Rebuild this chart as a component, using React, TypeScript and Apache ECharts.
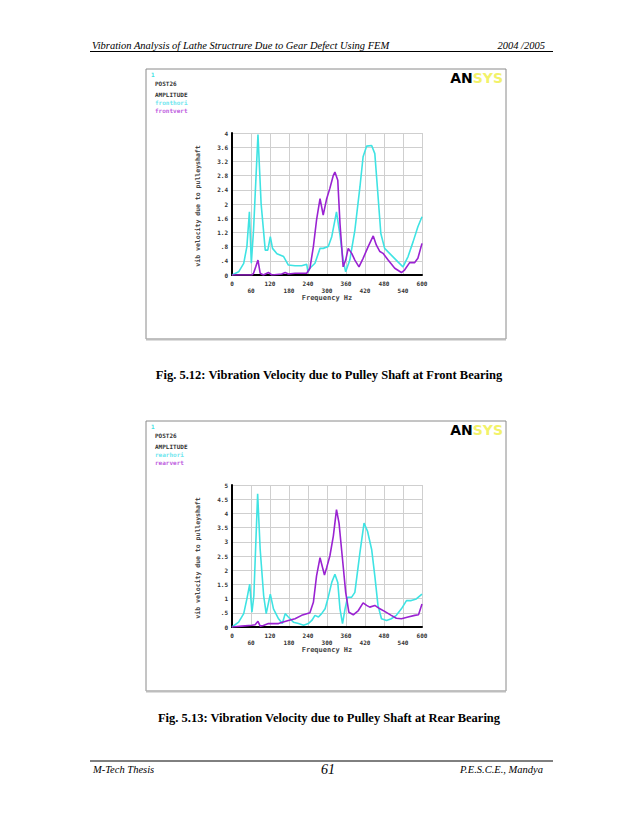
import React, { useEffect, useRef } from "react";
import * as echarts from "echarts";

// Fig 5.12 – front bearing
const frontHoriFreq = [0, 21, 37, 47, 55, 61, 68, 82, 92, 105, 113, 121, 128, 142, 163, 178, 199, 220, 236, 240, 246, 262, 278, 288, 304, 315, 330, 341, 351, 359, 372, 388, 404, 414, 425, 441, 451, 459, 470, 482, 503, 524, 540, 556, 572, 587, 600];
const frontHoriAmp = [0, 0.09, 0.33, 0.8, 1.78, 0.33, 1.26, 3.96, 2.0, 0.7, 0.7, 1.08, 0.75, 0.6, 0.52, 0.28, 0.26, 0.26, 0.3, 0.08, 0.19, 0.33, 0.75, 0.75, 0.8, 1.08, 1.78, 1.12, 0.42, 0.09, 0.42, 1.26, 2.48, 3.33, 3.63, 3.65, 3.42, 2.48, 1.17, 0.75, 0.56, 0.37, 0.23, 0.52, 0.94, 1.36, 1.64];
const frontVertFreq = [0, 63, 68, 75, 82, 89, 99, 115, 126, 157, 168, 178, 199, 236, 246, 257, 267, 278, 288, 299, 309, 320, 325, 334, 341, 351, 359, 367, 378, 388, 401, 414, 430, 446, 456, 467, 477, 493, 514, 535, 545, 561, 577, 587, 600];
const frontVertAmp = [0, 0, 0.05, 0.23, 0.42, 0.05, 0, 0.07, 0, 0.03, 0.07, 0.03, 0.05, 0.05, 0.19, 0.8, 1.55, 2.15, 1.69, 2.15, 2.44, 2.81, 2.9, 2.67, 1.45, 0.23, 0.42, 0.75, 0.61, 0.42, 0.23, 0.47, 0.8, 1.1, 0.84, 0.66, 0.61, 0.42, 0.19, 0.07, 0.14, 0.35, 0.35, 0.47, 0.89];

// Fig 5.13 – rear bearing
const rearHoriFreq = [0, 21, 37, 47, 56, 63, 69, 81, 89, 100, 108, 121, 131, 147, 159, 168, 178, 194, 210, 226, 241, 252, 262, 273, 283, 294, 304, 315, 325, 334, 341, 349, 357, 365, 378, 388, 404, 417, 428, 441, 451, 461, 472, 488, 503, 519, 535, 551, 566, 582, 600];
const rearHoriAmp = [0, 0.17, 0.47, 0.99, 1.51, 0.52, 1.1, 4.69, 2.73, 1.1, 0.47, 1.16, 0.64, 0.29, 0.12, 0.47, 0.35, 0.17, 0.12, 0.06, 0.12, 0.23, 0.41, 0.35, 0.47, 0.64, 1.05, 1.57, 1.86, 1.57, 0.64, 0.12, 0.64, 1.05, 1.05, 1.22, 2.62, 3.66, 3.37, 2.73, 1.8, 0.76, 0.29, 0.23, 0.29, 0.41, 0.64, 0.93, 0.93, 0.99, 1.16];
const rearVertFreq = [0, 31, 63, 73, 82, 89, 99, 115, 147, 159, 178, 199, 220, 236, 246, 257, 267, 278, 292, 299, 309, 320, 330, 338, 348, 359, 369, 383, 399, 414, 425, 435, 451, 467, 482, 503, 519, 535, 556, 577, 589, 600];
const rearVertAmp = [0, 0.03, 0.06, 0.08, 0.2, 0.03, 0.05, 0.12, 0.12, 0.17, 0.23, 0.29, 0.41, 0.47, 0.5, 0.87, 1.8, 2.44, 1.83, 2.09, 2.5, 3.2, 4.13, 3.66, 2.5, 1.22, 0.52, 0.43, 0.58, 0.85, 0.76, 0.7, 0.76, 0.64, 0.55, 0.41, 0.31, 0.29, 0.35, 0.41, 0.43, 0.81];

const yMax = [4, 5];
const yStep = [0.4, 0.5];
const xTicks = { min: 0, max: 600, step: 60 };
const legendNames = [["fronthori", "frontvert"], ["rearhori", "rearvert"]];
const captions = [
  "Fig. 5.12: Vibration Velocity due to Pulley Shaft at Front Bearing",
  "Fig. 5.13: Vibration Velocity due to Pulley Shaft at Rear Bearing",
];

const zip = (a: number[], b: number[]) => a.map((v, i) => [v, b[i]]);

const CYAN = "#3fe3e3";
const PURPLE = "#9a22d2";
const MONO = "DejaVu Sans Mono";
const SERIF = "Liberation Serif";

export default function App() {
  const ref = useRef<HTMLDivElement>(null);
  useEffect(() => {
    if (!ref.current) return;
    const chart = echarts.init(ref.current, null, { renderer: "svg" });
    const offsets = [0, 352];
    const grids = offsets.map((o) => ({ left: 232, top: 133 + o, width: 190, height: 142 }));
    const xAxes = [0, 1].map((i) => ({
      type: "value",
      gridIndex: i,
      min: xTicks.min,
      max: xTicks.max,
      interval: xTicks.step,
      axisLine: { show: true, lineStyle: { color: "#000", width: 2 } },
      axisTick: { show: false },
      splitLine: { show: true, lineStyle: { color: "#cfcfcf", width: 1 } },
      axisLabel: {
        interval: 0,
        fontFamily: MONO,
        fontSize: 6,
        fontWeight: "bold",
        color: "#333",
        lineHeight: 7,
        margin: 5,
        formatter: (v: number) => (Math.round(v / 60) % 2 === 1 ? "\n" + v : "" + v),
      },
    }));
    const yAxes = [0, 1].map((i) => ({
      type: "value",
      gridIndex: i,
      min: 0,
      max: yMax[i],
      interval: yStep[i],
      axisLine: { show: true, lineStyle: { color: "#000", width: 2 } },
      axisTick: { show: false },
      splitLine: { show: true, lineStyle: { color: "#cfcfcf", width: 1 } },
      axisLabel: {
        fontFamily: MONO,
        fontSize: 6,
        fontWeight: "bold",
        color: "#333",
        margin: 4,
        formatter: (v: number) => {
          const s = parseFloat(v.toFixed(2)).toString();
          return s.replace(/^0\./, ".");
        },
      },
    }));
    const mk = (name: string, data: number[][], color: string, idx: number) => ({
      type: "line",
      name,
      xAxisIndex: idx,
      yAxisIndex: idx,
      data,
      showSymbol: false,
      symbol: "none",
      lineStyle: { color, width: 1.6 },
      z: color === PURPLE ? 3 : 2,
    });
    const series = [
      mk("fronthori", zip(frontHoriFreq, frontHoriAmp), CYAN, 0),
      mk("frontvert", zip(frontVertFreq, frontVertAmp), PURPLE, 0),
      mk("rearhori", zip(rearHoriFreq, rearHoriAmp), CYAN, 1),
      mk("rearvert", zip(rearVertFreq, rearVertAmp), PURPLE, 1),
    ];

    const graphic: any[] = [];
    // header
    graphic.push({ type: "text", x: 92, y: 45, style: { text: "Vibration Analysis of Lathe Structrure Due to Gear Defect Using FEM", font: `italic 10.5px "${SERIF}"`, fill: "#000", verticalAlign: "middle" } });
    graphic.push({ type: "text", x: 545, y: 45, style: { text: "2004 /2005", font: `italic 10.5px "${SERIF}"`, fill: "#000", align: "right", verticalAlign: "middle" } });
    graphic.push({ type: "line", shape: { x1: 90, y1: 51.5, x2: 553, y2: 51.5 }, style: { stroke: "#000", lineWidth: 1 } });
    // footer
    graphic.push({ type: "line", shape: { x1: 90, y1: 761, x2: 553, y2: 761 }, style: { stroke: "#000", lineWidth: 1 } });
    graphic.push({ type: "text", x: 93, y: 769, style: { text: "M-Tech Thesis", font: `italic 10.5px "${SERIF}"`, fill: "#000", verticalAlign: "middle" } });
    graphic.push({ type: "text", x: 328, y: 769, style: { text: "61", font: `italic 14px "${SERIF}"`, fill: "#000", align: "center", verticalAlign: "middle" } });
    graphic.push({ type: "text", x: 543, y: 769, style: { text: "P.E.S.C.E., Mandya", font: `italic 10.5px "${SERIF}"`, fill: "#000", align: "right", verticalAlign: "middle" } });

    offsets.forEach((o, i) => {
      graphic.push({ type: "rect", shape: { x: 146, y: 69 + o, width: 360, height: 270 }, style: { fill: "#fff", stroke: "#8a8a8a", lineWidth: 1 }, z: -10 });
      graphic.push({ type: "line", shape: { x1: 146, y1: 339.5 + o, x2: 506, y2: 339.5 + o }, style: { stroke: "#bdbdbd", lineWidth: 2 }, z: -9 });
      graphic.push({ type: "text", x: 151, y: 74 + o, style: { text: "1", font: `bold 6px "${MONO}"`, fill: CYAN, verticalAlign: "middle" } });
      graphic.push({ type: "text", x: 155, y: 83 + o, style: { text: "POST26", font: `bold 6px "${MONO}"`, fill: "#333", verticalAlign: "middle" } });
      graphic.push({ type: "text", x: 155, y: 94 + o, style: { text: "AMPLITUDE", font: `bold 6px "${MONO}"`, fill: "#333", verticalAlign: "middle" } });
      graphic.push({ type: "text", x: 155, y: 102.5 + o, style: { text: legendNames[i][0], font: `bold 6px "${MONO}"`, fill: "#6ee6ee", verticalAlign: "middle" } });
      graphic.push({ type: "text", x: 155, y: 110.5 + o, style: { text: legendNames[i][1], font: `bold 6px "${MONO}"`, fill: "#c060e0", verticalAlign: "middle" } });
      graphic.push({
        type: "text", x: 503, y: 78 + o,
        style: {
          text: "{a|AN}{b|SYS}",
          align: "right",
          verticalAlign: "middle",
          rich: {
            a: { font: `bold 14px "DejaVu Sans"`, fill: "#000" },
            b: { font: `bold 14px "DejaVu Sans"`, fill: "#f2f26a" },
          },
        },
      });
      graphic.push({ type: "text", x: 327, y: 298 + o, style: { text: "Frequency Hz", font: `bold 7px "${MONO}"`, fill: "#444", align: "center", verticalAlign: "middle" } });
      graphic.push({ type: "text", x: 198, y: 206 + o, rotation: Math.PI / 2, style: { text: "vib velocity due to pulleyshaft", font: `bold 6.5px "${MONO}"`, fill: "#444", align: "center", verticalAlign: "middle" } });
      graphic.push({ type: "text", x: 329, y: 375 + o * 0.975, style: { text: captions[i], font: `bold 12.5px "${SERIF}"`, fill: "#000", align: "center", verticalAlign: "middle" } });
    });

    chart.setOption({
      animation: false,
      backgroundColor: "#fff",
      grid: grids,
      xAxis: xAxes,
      yAxis: yAxes,
      series,
      graphic,
    });
    return () => chart.dispose();
  }, []);
  return <div ref={ref} style={{ position: "absolute", left: 0, top: 0, width: 638, height: 826 }} />;
}
